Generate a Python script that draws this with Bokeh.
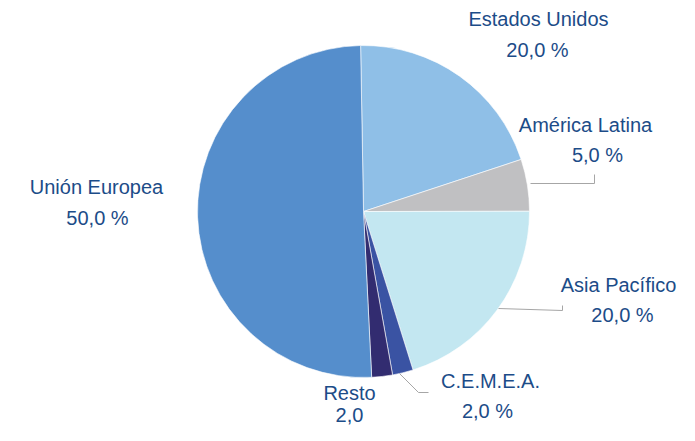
import math
from bokeh.plotting import figure
from bokeh.models import Range1d, ColumnDataSource
from bokeh.core.properties import value
from bokeh.embed import file_html
from bokeh.resources import INLINE

# ---- data ----
regions = ["Estados Unidos", "América Latina", "Asia Pacífico", "C.E.M.E.A.", "Resto", "Unión Europea"]
shares = [20.0, 5.0, 20.0, 2.0, 2.0, 50.0]
value_labels = ["20,0 %", "5,0 %", "20,0 %", "2,0 %", "2,0", "50,0 %"]
colors = ["#8FBFE7", "#C0C0C2", "#C3E7F1", "#3A53A3", "#322C70", "#558ECC"]

W, H = 679, 425
DY = -5  # vertical layout shift so that everything fits

def py(img_y):
    # image-pixel y (top-down) -> data y (bottom-up)
    return H - (img_y + DY)

p = figure(width=W, height=H, output_backend="svg", toolbar_location=None,
           x_range=Range1d(0, W), y_range=Range1d(0, H),
           min_border=0, outline_line_color=None)
p.axis.visible = False
p.grid.visible = False
p.background_fill_color = "white"
p.border_fill_color = "white"

# pie geometry (layout)
cx, cy = 363, py(216)
R = 166
start = math.radians(91)
total = sum(shares)
starts, ends = [], []
a = start
for s in shares:
    span = 2 * math.pi * s / total
    starts.append(a)
    ends.append(a - span)
    a -= span

src = ColumnDataSource(dict(x=[cx] * len(shares), y=[cy] * len(shares),
                            start=starts, end=ends, color=colors, region=regions))
p.wedge(x="x", y="y", radius=R, radius_units="screen", start_angle="start", end_angle="end",
        direction="clock", fill_color="color", line_color="white", line_width=0.6, source=src)

# leader lines (layout)
lead_color = "#A6A6A6"
p.line([530, 594, 594], [py(188), py(188), py(179)], line_color=lead_color, line_width=1)
p.line([498, 562, 562], [py(313), py(315), py(310)], line_color=lead_color, line_width=1)
p.line([399, 418, 428], [py(378), py(397), py(397)], line_color=lead_color, line_width=1)

# label positions (layout): name center, value center
name_pos = [(538, 23), (585, 129), (618, 289), (490, 385), (349, 397), (96, 191)]
val_pos = [(537, 54), (597, 159), (622, 319), (487, 415), (349, 419), (97, 222)]

txt_color = "#1C4C88"
font = value("Liberation Sans")
p.text(x=[q[0] for q in name_pos], y=[py(q[1]) for q in name_pos], text=regions,
       text_align="center", text_baseline="middle", text_font=font,
       text_font_size="20px", text_color=txt_color)
p.text(x=[q[0] for q in val_pos], y=[py(q[1]) for q in val_pos], text=value_labels,
       text_align="center", text_baseline="middle", text_font=font,
       text_font_size="20px", text_color=txt_color)

open("out.html", "w").write(file_html(p, INLINE))
